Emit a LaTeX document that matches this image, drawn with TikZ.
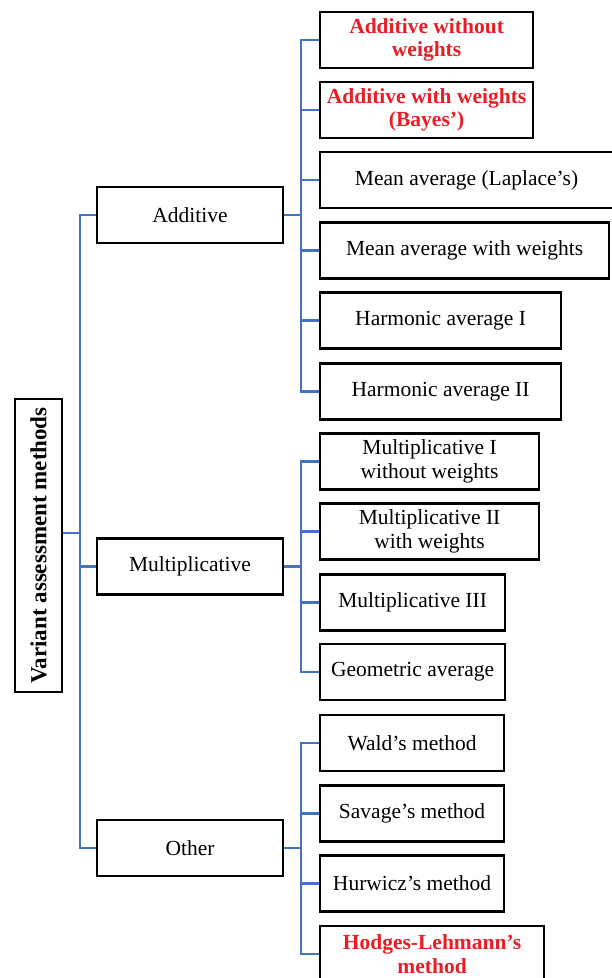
\documentclass[tikz,border=0pt]{standalone}
\usepackage{fontspec}
\setmainfont{Liberation Serif}
\usetikzlibrary{positioning}

\definecolor{lienbleu}{RGB}{68,114,196}
\definecolor{rougetitre}{RGB}{232,30,38}

\tikzset{
  boite/.style={draw, line width=2.2pt, align=center, inner sep=2pt,
    minimum height=56pt, font=\fontsize{21.5}{23.5}\selectfont},
  rouge/.style={text=rougetitre, font=\fontsize{21.5}{23.5}\selectfont\bfseries},
  lien/.style={draw=lienbleu, line width=2.2pt},
}

\begin{document}
\begin{tikzpicture}[x=1pt, y=-1pt]
    \useasboundingbox (0,0) rectangle (612,978);

    % Racine de l'arbre
    \node[boite, minimum width=47pt, minimum height=293pt] (racine) at (38.5,545.5)
        {\rotatebox{90}{\fontsize{23}{25}\selectfont\bfseries Variant assessment methods}};

    % Les trois familles
    \node[boite, minimum width=186pt] (add) at (190,215) {Additive};
    \node[boite, minimum width=186pt] (mult) at (190,566.5) {Multiplicative};
    \node[boite, minimum width=186pt] (other) at (190,848) {Other};

    % Methodes additives
    \node[boite, rouge, anchor=west, minimum width=213pt] (a1) at (319,40) {Additive without\\weights};
    \node[boite, rouge, anchor=west, minimum width=213pt] (a2) at (319,110) {Additive with weights\\(Bayes')};
    \node[boite, anchor=west, minimum width=293pt] (a3) at (319,180) {Mean average (Laplace's)};
    \node[boite, anchor=west, minimum width=289pt] (a4) at (319,250.5) {Mean average with weights};
    \node[boite, anchor=west, minimum width=241pt] (a5) at (319,320.5) {Harmonic average I};
    \node[boite, anchor=west, minimum width=241pt] (a6) at (319,391.5) {Harmonic average II};

    % Methodes multiplicatives
    \node[boite, anchor=west, minimum width=219pt] (m1) at (319,461.5) {Multiplicative I\\without weights};
    \node[boite, anchor=west, minimum width=219pt] (m2) at (319,531.5) {Multiplicative II\\with weights};
    \node[boite, anchor=west, minimum width=185pt] (m3) at (319,602.5) {Multiplicative III};
    \node[boite, anchor=west, minimum width=185pt] (m4) at (319,672) {Geometric average};

    % Autres methodes
    \node[boite, anchor=west, minimum width=184pt] (o1) at (319,743) {Wald's method};
    \node[boite, anchor=west, minimum width=184pt] (o2) at (319,813.5) {Savage's method};
    \node[boite, anchor=west, minimum width=184pt] (o3) at (319,883.5) {Hurwicz's method};
    \node[boite, rouge, anchor=west, minimum width=224pt] (o4) at (319,954) {Hodges-Lehmann's\\method};

    % Points de jonction
    \coordinate (j0) at (80,533);
    \coordinate (j1) at (301,215);
    \coordinate (j2) at (301,566.5);
    \coordinate (j3) at (301,848);

    % Liens principaux
    \draw[lien] (racine.east |- j0) -- (j0);
    \draw[lien] (add.west) -| (j0) |- (other.west);
    \draw[lien] (j0) |- (mult.west);

    % Liens vers les methodes
    \draw[lien] (add.east) -- (j1);
    \draw[lien] (a1.west) -| (j1) |- (a6.west);
    \foreach \n in {a2,a3,a4,a5}
        \draw[lien] (j1 |- \n.west) -- (\n.west);

    \draw[lien] (mult.east) -- (j2);
    \draw[lien] (m1.west) -| (j2) |- (m4.west);
    \foreach \n in {m2,m3}
        \draw[lien] (j2 |- \n.west) -- (\n.west);

    \draw[lien] (other.east) -- (j3);
    \draw[lien] (o1.west) -| (j3) |- (o4.west);
    \foreach \n in {o2,o3}
        \draw[lien] (j3 |- \n.west) -- (\n.west);
\end{tikzpicture}
\end{document}
